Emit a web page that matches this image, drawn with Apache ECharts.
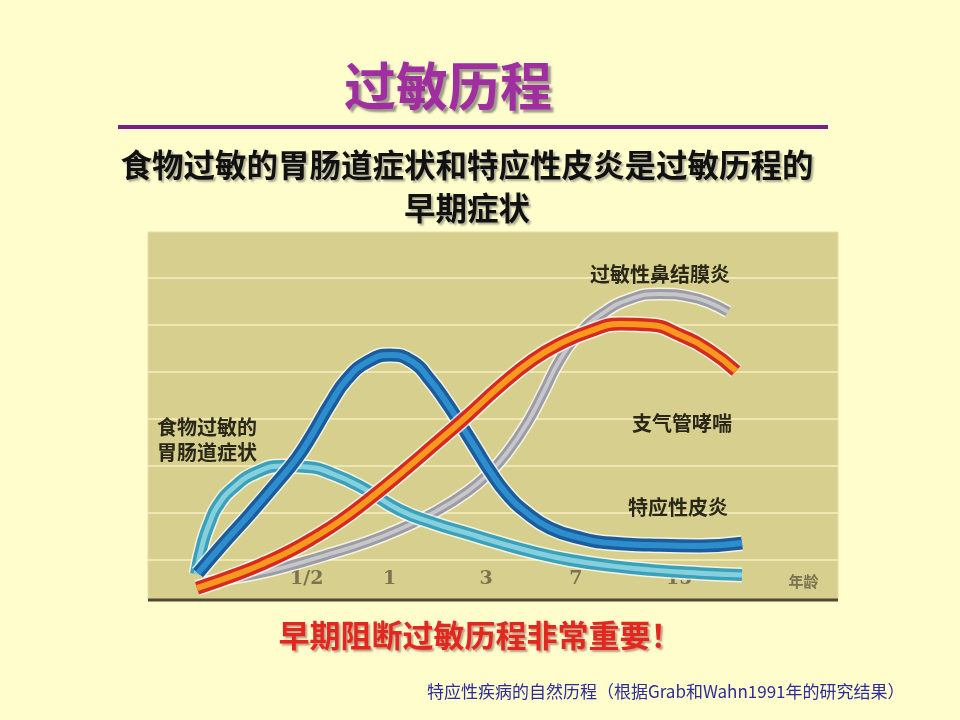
<!DOCTYPE html>
<html><head><meta charset="utf-8">
<script src="https://cdn.jsdelivr.net/npm/echarts@6/dist/echarts.min.js"></script>
<style>html,body{margin:0;padding:0;background:#fffdcc;}#c{width:960px;height:720px;}</style>
</head><body><div id="c"></div>
<script>
// x axis: abstract horizontal position units (0..100); y: relative prevalence units (0..8)
const xTickPos = [23, 35, 49, 62, 77, 95];
const xTickLabels = ['1/2', '1', '3', '7', '15', '年龄'];

const foodX = [6.96, 7.97, 8.99, 10.0, 12.32, 15.80, 19.57, 23.04, 26.81, 31.16, 36.52, 41.30, 46.23, 51.01, 55.80, 61.16, 67.39, 72.75, 80.00, 86.09];
const foodY = [0.70, 1.38, 1.81, 2.13, 2.53, 2.87, 3.00, 2.98, 2.83, 2.53, 2.06, 1.79, 1.57, 1.36, 1.17, 1.00, 0.87, 0.79, 0.72, 0.68];

const adX = [7.25, 10.87, 14.78, 18.41, 21.59, 23.91, 26.38, 28.84, 31.74, 35.07, 38.41, 40.87, 43.04, 45.22, 47.39, 49.57, 52.03, 54.93, 58.26, 62.61, 66.96, 72.75, 80.00, 86.09];
const adY = [0.72, 1.34, 1.98, 2.60, 3.17, 3.70, 4.32, 4.85, 5.21, 5.36, 5.21, 4.83, 4.40, 3.91, 3.40, 2.89, 2.40, 2.00, 1.68, 1.47, 1.36, 1.32, 1.30, 1.36];

const asthmaX = [7.10, 13.33, 16.96, 20.58, 24.20, 27.83, 31.74, 36.52, 41.30, 46.23, 51.01, 55.80, 59.71, 64.06, 68.41, 72.75, 77.10, 81.45, 85.22];
const asthmaY = [0.40, 0.72, 0.94, 1.19, 1.49, 1.83, 2.26, 2.83, 3.43, 4.06, 4.70, 5.26, 5.60, 5.87, 6.02, 6.00, 5.79, 5.45, 5.02];

const rhinX = [8.26, 13.33, 17.68, 22.03, 26.81, 31.74, 36.52, 41.30, 46.23, 49.57, 52.03, 54.93, 57.25, 59.71, 62.61, 65.51, 69.86, 74.20, 78.55, 81.45, 84.06];
const rhinY = [0.53, 0.64, 0.77, 0.94, 1.15, 1.38, 1.66, 2.00, 2.45, 2.87, 3.28, 3.91, 4.55, 5.26, 5.83, 6.21, 6.55, 6.66, 6.60, 6.47, 6.28];

const seriesNames = ['过敏性鼻结膜炎', '食物过敏的胃肠道症状', '特应性皮炎', '支气管哮喘'];

function pairs(xs, ys) { return xs.map((x, i) => [x, ys[i]]); }

function striped(name, xs, ys, outer, inner, wOuter, wInner) {
  const d = pairs(xs, ys);
  const base = { type: 'line', name: name, data: d, smooth: 0.5, showSymbol: false, silent: true };
  return [
    Object.assign({}, base, { lineStyle: { color: 'rgba(255,255,255,0.75)', width: wOuter + 3, cap: 'butt' } }),
    Object.assign({}, base, { lineStyle: { color: outer, width: wOuter, cap: 'butt' } }),
    Object.assign({}, base, { lineStyle: { color: inner, width: wInner, cap: 'butt' } })
  ];
}

const tickMap = {};
xTickPos.forEach((p, i) => { tickMap[p] = xTickLabels[i]; });

const chart = echarts.init(document.getElementById('c'));
const labelStyle = { fontSize: 20, fontWeight: 'bold', color: '#2a2718', fontFamily: 'Noto Sans CJK SC', lineHeight: 25 };

chart.setOption({
  animation: false,
  backgroundColor: '#fffdcc',
  title: [
    { text: '过敏历程', left: 448, top: 57, textAlign: 'center', padding: 0,
      textStyle: { fontSize: 52, lineHeight: 58, fontWeight: 'bold', color: '#a02ea0', fontFamily: 'Noto Sans CJK SC',
        textShadowColor: 'rgba(90,90,90,0.6)', textShadowOffsetX: 3, textShadowOffsetY: 3, textShadowBlur: 2 } },
    { text: '食物过敏的胃肠道症状和特应性皮炎是过敏历程的\n早期症状', left: 467, top: 144, textAlign: 'center', padding: 0,
      textStyle: { fontSize: 31.5, lineHeight: 43, fontWeight: 'bold', color: '#111111', fontFamily: 'Noto Sans CJK SC',
        textShadowColor: 'rgba(90,90,90,0.5)', textShadowOffsetX: 2, textShadowOffsetY: 2, textShadowBlur: 2 } },
    { text: '早期阻断过敏历程非常重要！', left: 480, top: 618, textAlign: 'center', padding: 0,
      textStyle: { fontSize: 31, lineHeight: 35, fontWeight: 'bold', color: '#e3261e', fontFamily: 'Noto Sans CJK SC',
        textShadowColor: 'rgba(120,60,60,0.5)', textShadowOffsetX: 2, textShadowOffsetY: 2, textShadowBlur: 2 } },
    { text: '特应性疾病的自然历程（根据Grab和Wahn1991年的研究结果）', left: 427, top: 682, padding: 0,
      textStyle: { fontSize: 17, lineHeight: 20, fontWeight: 'normal', color: '#2b2b9b', fontFamily: 'Noto Sans CJK SC' } },
    { text: seriesNames[0], left: 590, top: 262, padding: 0, textStyle: labelStyle },
    { text: seriesNames[3], left: 632, top: 411, padding: 0, textStyle: labelStyle },
    { text: seriesNames[2], left: 628, top: 495, padding: 0, textStyle: labelStyle },
    { text: '食物过敏的\n胃肠道症状', left: 157, top: 415, padding: 0, textStyle: labelStyle }
  ],
  graphic: [
    { type: 'line', z: -5, shape: { x1: 118, y1: 127, x2: 828, y2: 127 }, style: { stroke: '#7d1c82', lineWidth: 4 } },
    { type: 'rect', z: -10, shape: { x: 148, y: 232, width: 690, height: 368 }, style: { fill: '#d7cf8e', stroke: '#e6dea6', lineWidth: 1 } },
    { type: 'line', z: -4, shape: { x1: 148, y1: 600, x2: 838, y2: 600 }, style: { stroke: '#4f4a36', lineWidth: 3 } }
  ],
  grid: { left: 148, right: 122, top: 231, bottom: 113 },
  xAxis: {
    type: 'value', min: 0, max: 100, interval: 1,
    axisLine: { show: false }, axisTick: { show: false }, splitLine: { show: false },
    axisLabel: {
      inside: true, margin: 18, showMinLabel: true, showMaxLabel: true,
      color: '#7a7250', fontSize: 20, fontWeight: 'bold', fontFamily: 'DejaVu Serif',
      formatter: v => {
        const t = tickMap[v];
        if (!t) return '';
        return t === '年龄' ? '{c|' + t + '}' : '{n|' + t + '}';
      },
      rich: {
        n: { fontSize: 19, fontWeight: 'bold', color: '#7a7250', fontFamily: 'DejaVu Serif' },
        c: { fontSize: 15, color: '#7a7250', fontFamily: 'Noto Sans CJK SC' }
      }
    }
  },
  yAxis: {
    type: 'value', min: 0, max: 8, interval: 1,
    axisLine: { show: false }, axisTick: { show: false }, axisLabel: { show: false },
    splitLine: { show: true, lineStyle: { width: 2, color: ['rgba(0,0,0,0)', '#eee7b2', '#eee7b2', '#eee7b2', '#eee7b2', '#eee7b2', '#eee7b2', '#eee7b2', 'rgba(0,0,0,0)'] } }
  },
  series: [].concat(
    striped(seriesNames[0], rhinX, rhinY, '#9c9ca4', '#c6c6cb', 10, 4),
    striped(seriesNames[1], foodX, foodY, '#3aa1ba', '#86d0dd', 12, 5),
    striped(seriesNames[2], adX, adY, '#1a5c9c', '#2e8dcd', 13, 6),
    striped(seriesNames[3], asthmaX, asthmaY, '#d62a1f', '#f7991f', 13, 6)
  )
});
</script>
</body></html>
